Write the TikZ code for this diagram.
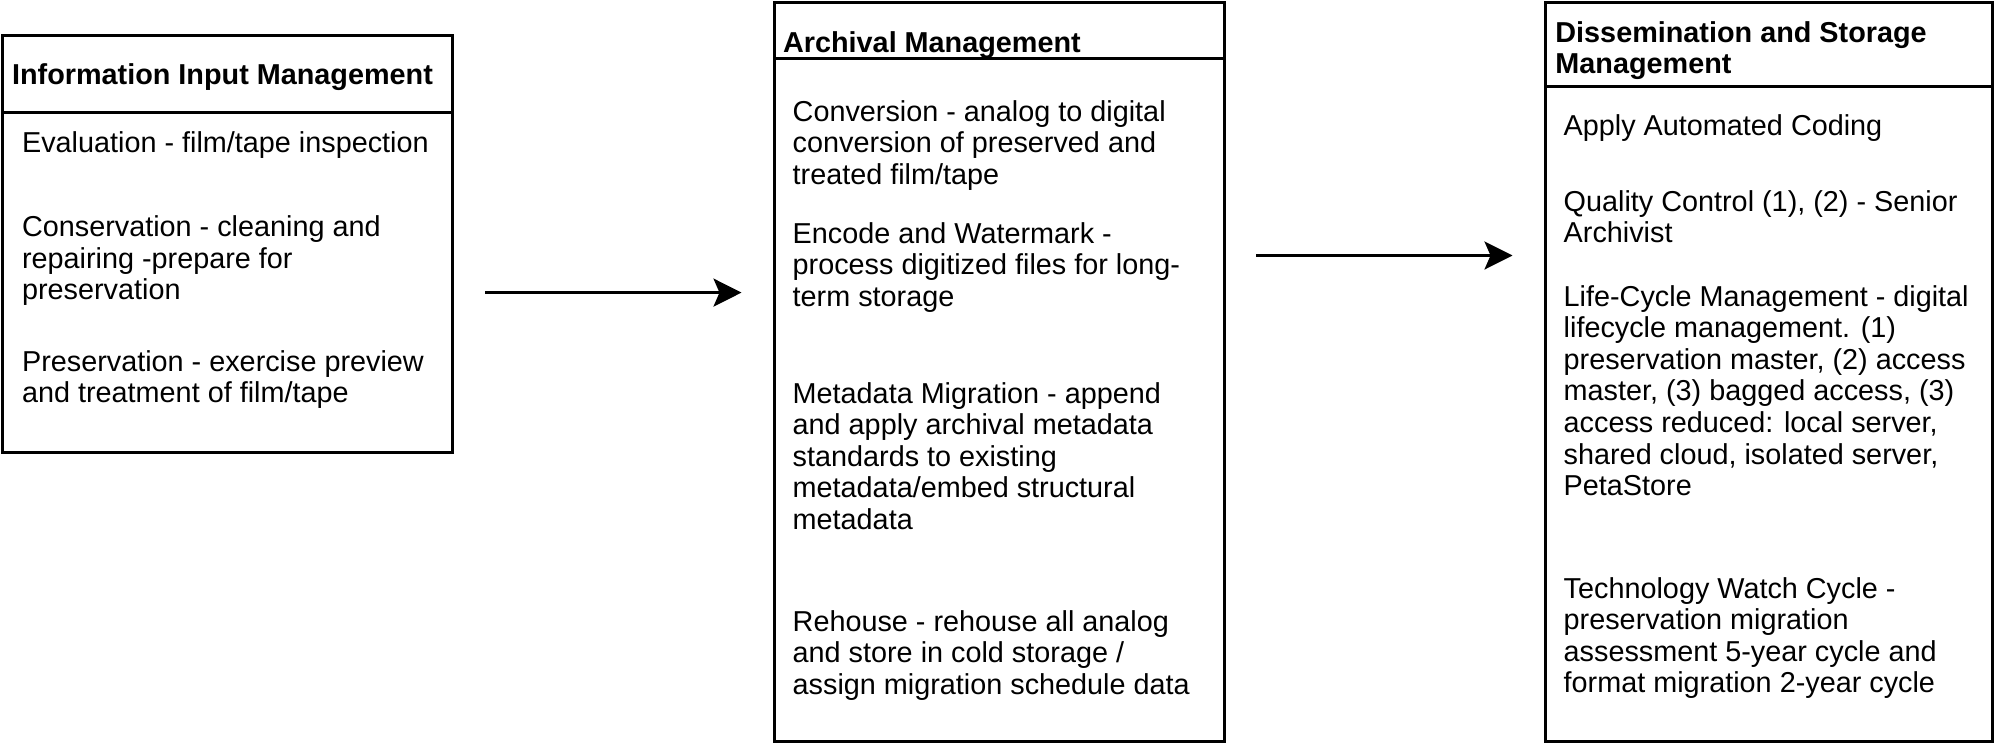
\documentclass[tikz,border=0pt]{standalone}
\usepackage{fontspec}
\setmainfont{Liberation Sans}
\usetikzlibrary{arrows.meta}
\tikzset{
  panel/.style={draw=black, line width=1.5pt, fill=white, inner sep=0pt, outer sep=0pt, anchor=north west},
  divider/.style={draw=black, line width=1.5pt},
  head/.style={anchor=base west, inner sep=0pt, align=left, font=\fontsize{14.4}{15.8}\selectfont\bfseries},
  body/.style={anchor=base west, inner sep=0pt, align=left, font=\fontsize{14.4}{15.8}\selectfont},
  flow/.style={draw=black, line width=1.5pt, -{Stealth[length=14pt, width=14pt, inset=3pt]}}
}
\begin{document}
\begin{tikzpicture}[x=0.5pt, y=-0.5pt]
\useasboundingbox (0,0) rectangle (1995,744);
% panels
\node[panel, minimum width=450pt*0.5, minimum height=417pt*0.5] (p1) at (2.5,35.6) {};
\node[panel, minimum width=450pt*0.5, minimum height=739pt*0.5] (p2) at (774,2.5) {};
\node[panel, minimum width=447pt*0.5, minimum height=739pt*0.5] (p3) at (1545.5,2.5) {};
% dividers
\draw[divider] (p1.west |- 0,112) -- (p1.east |- 0,112);
\draw[divider] (p2.west |- 0,58.5) -- (p2.east |- 0,58.5);
\draw[divider] (p3.west |- 0,86.5) -- (p3.east |- 0,86.5);
% box 1 (base anchor = baseline of the last line)
\node[head] (h1) at (11.7,84) {Information Input Management};
\node[body] (t11) at (21.7,152.5) {Evaluation - film/tape inspection};
\node[body] (t12) at (21.7,299.7) {Conservation - cleaning and\\repairing -prepare for\\preservation};
\node[body] (t13) at (21.7,402.6) {Preservation - exercise preview\\and treatment of film/tape};
% box 2
\node[head] (h2) at (782.7,52) {Archival Management};
\node[body] (t21) at (792.3,184.2) {Conversion - analog to digital\\conversion of preserved and\\treated film/tape};
\node[body] (t22) at (792.3,306.2) {Encode and Watermark -\\process digitized files for long-\\term storage};
\node[body] (t23) at (792.3,529.4) {Metadata Migration - append\\and apply archival metadata\\standards to existing\\metadata/embed structural\\metadata};
\node[body] (t24) at (792.3,694.2) {Rehouse - rehouse all analog\\and store in cold storage /\\assign migration schedule data};
% box 3
\node[head] (h3) at (1555,73.6) {Dissemination and Storage\\Management};
\node[body] (t31) at (1563.3,135) {Apply Automated Coding};
\node[body] (t32) at (1563.3,242.6) {Quality Control (1), (2) - Senior\\Archivist};
\node[body] (t33) at (1563.3,495.6) {Life-Cycle Management - digital\\lifecycle management. (1)\\preservation master, (2) access\\master, (3) bagged access, (3)\\access reduced: local server,\\shared cloud, isolated server,\\PetaStore};
\node[body] (t34) at (1563.3,692.8) {Technology Watch Cycle -\\preservation migration\\assessment 5-year cycle and\\format migration 2-year cycle};
% arrows
\coordinate (a1s) at (485,292.6);
\coordinate (a1e) at (741.5,292.6);
\coordinate (a2s) at (1256,255.5);
\coordinate (a2e) at (1512.5,255.5);
\draw[flow] (a1s) -- (a1e);
\draw[flow] (a2s) -- (a2e);
\end{tikzpicture}
\end{document}
